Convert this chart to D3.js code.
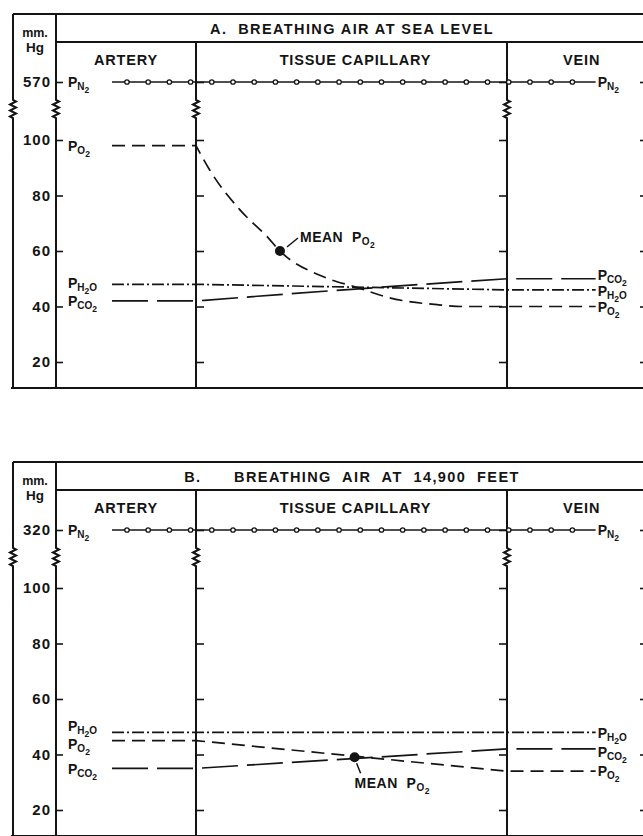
<!DOCTYPE html>
<html>
<head>
<meta charset="utf-8">
<script src="https://cdn.jsdelivr.net/npm/d3@7"></script>
<style>
  body { margin: 0; background: #fff; }
  svg text { font-family: "Liberation Sans", Arial, sans-serif; font-weight: bold; fill: #141414; }
  .tick text { font-size: 15px; letter-spacing: 1px; }
  .tick line { stroke: #141414; stroke-width: 1.6; }
</style>
</head>
<body>
<svg id="chart" width="643" height="836"></svg>
<script>
// ============ DATA ============
const titles = ["A.  BREATHING AIR AT SEA LEVEL", "B.      BREATHING  AIR  AT  14,900  FEET"];
const columns = ["ARTERY", "TISSUE CAPILLARY", "VEIN"];
const nitrogen = [570, 320];
const yTicksA = [20, 40, 60, 80, 100, 570];
const yTicksB = [20, 40, 60, 80, 100, 320];

// position along the vessel: 0 = start of capillary, 1 = end of capillary
// (artery value = first point, vein value = last point)
const oxygenA = [[0, 98], [0.045, 89], [0.14, 75], [0.23, 65], [0.27, 60], [0.41, 50.7],
                 [0.52, 46.8], [0.62, 43.2], [0.78, 40.6], [0.86, 40], [1, 40]];
const carbonA = [[0, 42], [0.5, 46.2], [1, 50]];
const waterA = [[0, 48], [1, 46]];
const meanA = [0.27, 60];

const oxygenB = [[0, 45], [1, 34]];
const carbonB = [[0, 35], [1, 42]];
const waterB = [[0, 48], [1, 48]];
const meanB = [0.51, 39];

// ============ LAYOUT ============
const xOuter = 13, xAxis = 56, xEdge = 643;
const yTop = 14, yBand = 42, yBottom = 388;
const breakY = [100, 118];
const arteryStart = -0.27, veinEnd = 1.285;

const svg = d3.select("#chart");
const x = d3.scaleLinear().domain([0, 1]).range([196, 507]);

const styles = {
  O2: { dash: "13,7", sub: [["O", 1], ["2", 2]] },
  CO2: { dash: "36,9", sub: [["CO", 1], ["2", 2]] },
  H2O: { dash: "12,3,2,3", sub: [["H", 1], ["2", 2], ["O", 1]] },
  N2: { dash: null, sub: [["N", 1], ["2", 2]] }
};

const panels = [
  {
    dy: 0, title: titles[0], top: nitrogen[0], ticks: yTicksA,
    gases: [
      { key: "O2", data: oxygenA, nl: 0, nr: 0 },
      { key: "CO2", data: carbonA, nl: 0, nr: -4 },
      { key: "H2O", data: waterA, nl: -1, nr: 1 }
    ],
    mean: meanA, meanLabel: [20, -9], lead: [[7, -4], [18, -13]]
  },
  {
    dy: 448, title: titles[1], top: nitrogen[1], ticks: yTicksB,
    gases: [
      { key: "O2", data: oxygenB, nl: 3, nr: 0 },
      { key: "CO2", data: carbonB, nl: 1, nr: 3 },
      { key: "H2O", data: waterB, nl: -6, nr: 1 }
    ],
    mean: meanB, meanLabel: [0, 31], lead: [[2, 6], [6, 16]]
  }
];

// ============ HELPERS ============
function zigLine(xx, y0, y1) {
  const pts = [[xx, y0], [xx, breakY[0]]];
  const n = 6, h = (breakY[1] - breakY[0]) / n;
  d3.range(n).forEach(i => pts.push([xx + (i % 2 ? -3 : 3), breakY[0] + h * (i + 0.5)]));
  pts.push([xx, breakY[1]], [xx, y1]);
  return d3.line()(pts);
}

function gasLabel(g, px, py, key) {
  const t = g.append("text").attr("x", px).attr("y", py).attr("font-size", 14);
  t.append("tspan").text("P");
  let level = 0;
  styles[key].sub.forEach(([s, l]) => {
    t.append("tspan").attr("dy", (l - level) * 3).attr("font-size", l === 1 ? 10 : 8.5).text(s);
    level = l;
  });
  return t;
}

// ============ DRAW ============
panels.forEach(p => {
  const g = svg.append("g").attr("transform", `translate(0,${p.dy})`);
  const y = d3.scaleLinear().domain([20, 100, p.top]).range([362, 140, 82]);

  // frame
  const frame = g.append("g").attr("fill", "none").attr("stroke", "#141414").attr("stroke-width", 2);
  frame.append("path").attr("d", zigLine(xOuter, yTop, yBottom));
  frame.append("path").attr("d", zigLine(xAxis, yTop, yBottom));
  frame.append("path").attr("d", zigLine(x(0), yBand, yBottom));
  frame.append("path").attr("d", zigLine(x(1), yBand, yBottom));
  frame.append("path").attr("d", d3.line()([[xOuter, yTop], [xEdge, yTop]]));
  frame.append("path").attr("d", d3.line()([[xAxis, yBand], [xEdge, yBand]]));
  frame.append("path").attr("d", d3.line()([[xOuter - 2, yBottom], [xEdge, yBottom]]));

  // axes / ticks
  g.append("g").attr("transform", `translate(${xAxis},0)`)
    .call(d3.axisLeft(y).tickValues(p.ticks).tickSize(-7).tickPadding(5))
    .call(a => a.select(".domain").remove());
  g.append("g").attr("transform", `translate(${x(0)},0)`)
    .call(d3.axisLeft(y).tickValues(p.ticks).tickSize(-8).tickFormat(""))
    .call(a => a.select(".domain").remove());
  g.append("g").attr("transform", `translate(${x(1)},0)`)
    .call(d3.axisRight(y).tickValues(p.ticks).tickSize(-8).tickFormat(""))
    .call(a => a.select(".domain").remove());
  g.append("g").attr("transform", `translate(${xEdge},0)`)
    .call(d3.axisRight(y).tickValues(p.ticks).tickSize(-3).tickFormat(""))
    .call(a => a.select(".domain").remove());

  // headings
  g.append("text").attr("x", 35).attr("y", 37).attr("text-anchor", "middle")
    .attr("font-size", 12.5).text("mm.");
  g.append("text").attr("x", 35).attr("y", 52).attr("text-anchor", "middle")
    .attr("font-size", 13.5).text("Hg");
  g.append("text").attr("x", 352).attr("y", 34).attr("text-anchor", "middle")
    .attr("font-size", 14.5).style("letter-spacing", "1.4px").style("white-space", "pre")
    .text(p.title);
  const colX = [(xAxis + x(0)) / 2, x(0.5) + 4, x(1.24)];
  columns.forEach((c, i) => {
    g.append("text").attr("x", colX[i]).attr("y", 65).attr("text-anchor", "middle")
      .attr("font-size", 14.5).style("letter-spacing", "0.8px").text(c);
  });

  // nitrogen line with open circles
  const yN = y(p.top);
  g.append("line").attr("x1", x(arteryStart)).attr("x2", x(veinEnd))
    .attr("y1", yN).attr("y2", yN).attr("stroke", "#141414").attr("stroke-width", 1.6);
  g.append("g").selectAll("circle")
    .data(d3.range(22).map(i => -0.222 + i * 0.0682))
    .join("circle")
    .attr("cx", d => x(d)).attr("cy", yN).attr("r", 2.2)
    .attr("fill", "#fff").attr("stroke", "#141414").attr("stroke-width", 1.3);
  gasLabel(g, 68, yN + 5, "N2");
  gasLabel(g, x(veinEnd) + 2, yN + 5, "N2");

  // gas pressure lines
  const capLine = d3.line().x(d => x(d[0])).y(d => y(d[1])).curve(d3.curveMonotoneX);
  p.gases.forEach(gs => {
    const d = gs.data;
    const v0 = d[0][1], v1 = d[d.length - 1][1];
    const path = "M" + x(arteryStart) + "," + y(v0) + "L" + capLine(d).slice(1) +
                 "L" + x(veinEnd) + "," + y(v1);
    g.append("path").attr("d", path).attr("fill", "none")
      .attr("stroke", "#141414").attr("stroke-width", 1.7)
      .attr("stroke-dasharray", styles[gs.key].dash);
    gasLabel(g, 68, y(v0) + 5 + gs.nl, gs.key);
    gasLabel(g, x(veinEnd) + 2, y(v1) + 5 + gs.nr, gs.key);
  });

  // mean PO2
  const mx = x(p.mean[0]), my = y(p.mean[1]);
  g.append("circle").attr("cx", mx).attr("cy", my).attr("r", 5).attr("fill", "#141414");
  g.append("line")
    .attr("x1", mx + p.lead[0][0]).attr("y1", my + p.lead[0][1])
    .attr("x2", mx + p.lead[1][0]).attr("y2", my + p.lead[1][1])
    .attr("stroke", "#141414").attr("stroke-width", 1.5);
  const mt = g.append("text").attr("x", mx + p.meanLabel[0]).attr("y", my + p.meanLabel[1])
    .attr("font-size", 14).style("letter-spacing", "0.5px").style("white-space", "pre");
  mt.append("tspan").text("MEAN  P");
  mt.append("tspan").attr("dy", 3).attr("font-size", 10).text("O");
  mt.append("tspan").attr("dy", 3).attr("font-size", 8.5).text("2");
});
</script>
</body>
</html>
